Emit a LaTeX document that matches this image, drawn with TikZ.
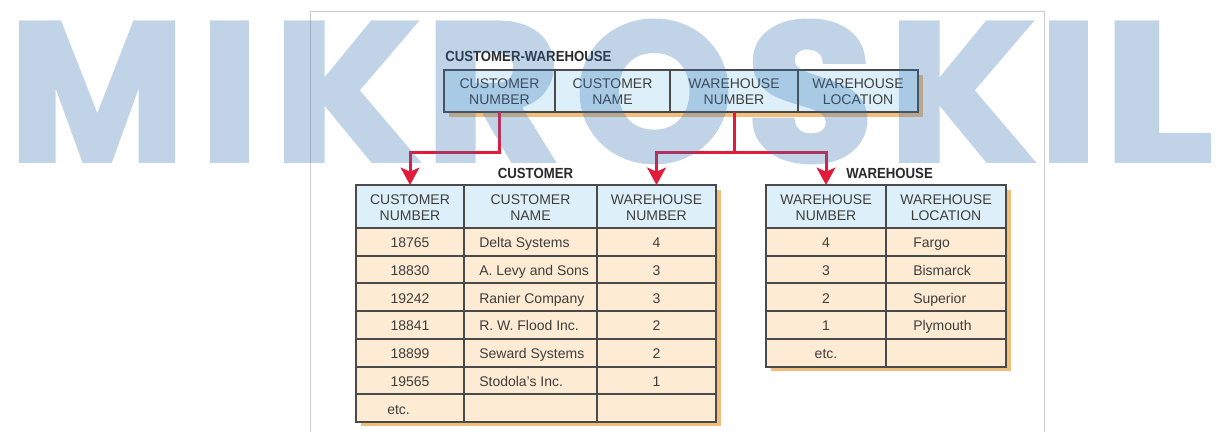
\documentclass[tikz,border=0pt]{standalone}
\usepackage{fontspec}
\setmainfont{Liberation Sans}
\newfontfamily\titlefont{Liberation Sans}[FakeStretch=0.9]
\newfontfamily\wmfont{Poppins}[BoldFeatures={FakeBold=2}]
\usetikzlibrary{arrows.meta,fit,calc}

\definecolor{hdrblue}{HTML}{DDF0FA}
\definecolor{rowcream}{HTML}{FDEBD3}
\definecolor{shadoworange}{HTML}{F2BE7C}
\definecolor{gridgrey}{HTML}{4A4A4A}
\definecolor{inkgrey}{HTML}{3E3E3E}
\definecolor{titleink}{HTML}{2A2A2A}
\definecolor{linkred}{HTML}{E21B3C}
\definecolor{framegrey}{HTML}{CCCCCC}
\definecolor{wmblue}{RGB}{52,115,178}

\begin{document}
\begin{tikzpicture}[x=0.75pt,y=-0.75pt,
  cellbase/.style={draw=gridgrey, line width=1.5pt, inner sep=0pt, outer sep=0pt},
  hcell/.style={cellbase, fill=hdrblue},
  dcell/.style={cellbase, fill=rowcream},
  shadowbox/.style={fill=shadoworange},
  hdrtext/.style={font=\fontsize{10.5pt}{11.6pt}\selectfont, text=inkgrey, align=center, inner sep=0pt},
  datatext/.style={font=\fontsize{10.5pt}{12pt}\selectfont, text=inkgrey, inner sep=0pt},
  tabletitle/.style={font=\titlefont\bfseries\fontsize{11pt}{13pt}\selectfont, text=titleink, inner sep=0pt},
  link/.style={draw=linkred, line width=2.25pt, -{Stealth[length=13pt,width=14pt,inset=3pt]}},
  wmletter/.style={font=\wmfont\bfseries\fontsize{148pt}{148pt}\selectfont, text=wmblue, inner sep=0pt, anchor=base},
]
% canvas
\useasboundingbox (0,0) rectangle (1227,432);
\fill[white] (0,0) rectangle (1227,432);
\draw[framegrey, line width=0.75pt] (310,432) -- (310,11) -- (1044,11) -- (1044,432);

% ---------- CUSTOMER-WAREHOUSE ----------
\node[tabletitle, anchor=base west] (t-cw) at (445,61) {CUSTOMER-WAREHOUSE};
\fill[shadowbox] (449,75) rectangle (923,117);
\node[hcell, fit={(444,70) (555,112)}] (cw1) {};
\node[hcell, fit={(555,70) (670,112)}] (cw2) {};
\node[hcell, fit={(670,70) (798,112)}] (cw3) {};
\node[hcell, fit={(798,70) (918,112)}] (cw4) {};
\node[hdrtext] (cw1t) at ($(cw1.center)+(0,0.5)$) {CUSTOMER\\NUMBER};
\node[hdrtext] (cw2t) at ($(cw2.center)+(0,0.5)$) {CUSTOMER\\NAME};
\node[hdrtext] (cw3t) at ($(cw3.center)+(0,0.5)$) {WAREHOUSE\\NUMBER};
\node[hdrtext] (cw4t) at ($(cw4.center)+(0,0.5)$) {WAREHOUSE\\LOCATION};

% ---------- CUSTOMER ----------
\node[tabletitle, anchor=base] (t-c) at (535.5,178) {CUSTOMER};
\fill[shadowbox] (361,190) rectangle (721,426);
\node[hcell, fit={(356,185) (464,228)}] (c1) {};
\node[hcell, fit={(464,185) (597,228)}] (c2) {};
\node[hcell, fit={(597,185) (716,228)}] (c3) {};
\node[hdrtext] (c1t) at ($(c1.center)+(0,1)$) {CUSTOMER\\NUMBER};
\node[hdrtext] (c2t) at ($(c2.center)+(0,1)$) {CUSTOMER\\NAME};
\node[hdrtext] (c3t) at ($(c3.center)+(0,1)$) {WAREHOUSE\\NUMBER};
\foreach \num/\name/\wh [count=\i] in {18765/Delta Systems/4, 18830/A. Levy and Sons/3,
    19242/Ranier Company/3, 18841/R. W. Flood Inc./2, 18899/Seward Systems/2,
    19565/Stodola’s Inc./1}{
  \pgfmathsetmacro\ya{228+27.7*(\i-1)}
  \pgfmathsetmacro\yb{\ya+27.7}
  \node[dcell, fit={(356,\ya) (464,\yb)}] (cr\i a) {};
  \node[dcell, fit={(464,\ya) (597,\yb)}] (cr\i b) {};
  \node[dcell, fit={(597,\ya) (716,\yb)}] (cr\i c) {};
  \node[datatext, anchor=base] (ct\i a) at ($(cr\i a.center)+(0,6)$) {\num};
  \node[datatext, anchor=base west] (ct\i b) at ($(cr\i b.west)+(15,6)$) {\name};
  \node[datatext, anchor=base] (ct\i c) at ($(cr\i c.center)+(0,6)$) {\wh};
}
\node[dcell, fit={(356,394.2) (464,421.9)}] (cr7a) {};
\node[dcell, fit={(464,394.2) (597,421.9)}] (cr7b) {};
\node[dcell, fit={(597,394.2) (716,421.9)}] (cr7c) {};
\node[datatext, anchor=base west] (ct7a) at ($(cr7a.west)+(31,6)$) {etc.};

% ---------- WAREHOUSE ----------
\node[tabletitle, anchor=base west] (t-w) at (846,178) {WAREHOUSE};
\fill[shadowbox] (771,190) rectangle (1011,371);
\node[hcell, fit={(766,185) (886,228)}] (w1) {};
\node[hcell, fit={(886,185) (1006,228)}] (w2) {};
\node[hdrtext] (w1t) at ($(w1.center)+(0,1)$) {WAREHOUSE\\NUMBER};
\node[hdrtext] (w2t) at ($(w2.center)+(0,1)$) {WAREHOUSE\\LOCATION};
\foreach \wh/\loc [count=\i] in {4/Fargo, 3/Bismarck, 2/Superior, 1/Plymouth, etc./}{
  \pgfmathsetmacro\ya{228+27.7*(\i-1)}
  \pgfmathsetmacro\yb{\ya+27.7}
  \node[dcell, fit={(766,\ya) (886,\yb)}] (wr\i a) {};
  \node[dcell, fit={(886,\ya) (1006,\yb)}] (wr\i b) {};
  \node[datatext, anchor=base] (wt\i a) at ($(wr\i a.center)+(0,6)$) {\wh};
  \node[datatext, anchor=base west] (wt\i b) at ($(wr\i b.west)+(27,6)$) {\loc};
}

% ---------- links ----------
\draw[link] (cw1.south) -- ++(0,40) -| (c1.north);
\draw[link] (cw3.south) -- ++(0,40) coordinate (split) -| (c3.north);
\draw[link] (split) -| (w1.north);

% ---------- watermark, laid over everything as one translucent layer ----------
\begin{scope}[transparency group, opacity=0.3]
\node[wmletter] (wm1) at (97,161) {\scalebox{0.97}[1]{M}};
\node[wmletter] (wm2) at (229.5,161) {\scalebox{1.03}[1]{I}};
\node[wmletter] (wm3) at (347,161) {\scalebox{1.08}[1]{K}};
\node[wmletter] (wm4) at (493,161) {\scalebox{1.06}[1]{R}};
\node[wmletter] (wm5) at (654,161) {\scalebox{1.02}[1]{O}};
\node[wmletter] (wm6) at (810,161) {\scalebox{1.06}[1]{S}};
\node[wmletter] (wm7) at (962,161) {\scalebox{1.08}[1]{K}};
\node[wmletter] (wm8) at (1068.5,161) {\scalebox{1.03}[1]{I}};
\node[wmletter] (wm9) at (1158,161) {\scalebox{1.18}[1]{L}};
\end{scope}
\end{tikzpicture}
\end{document}
